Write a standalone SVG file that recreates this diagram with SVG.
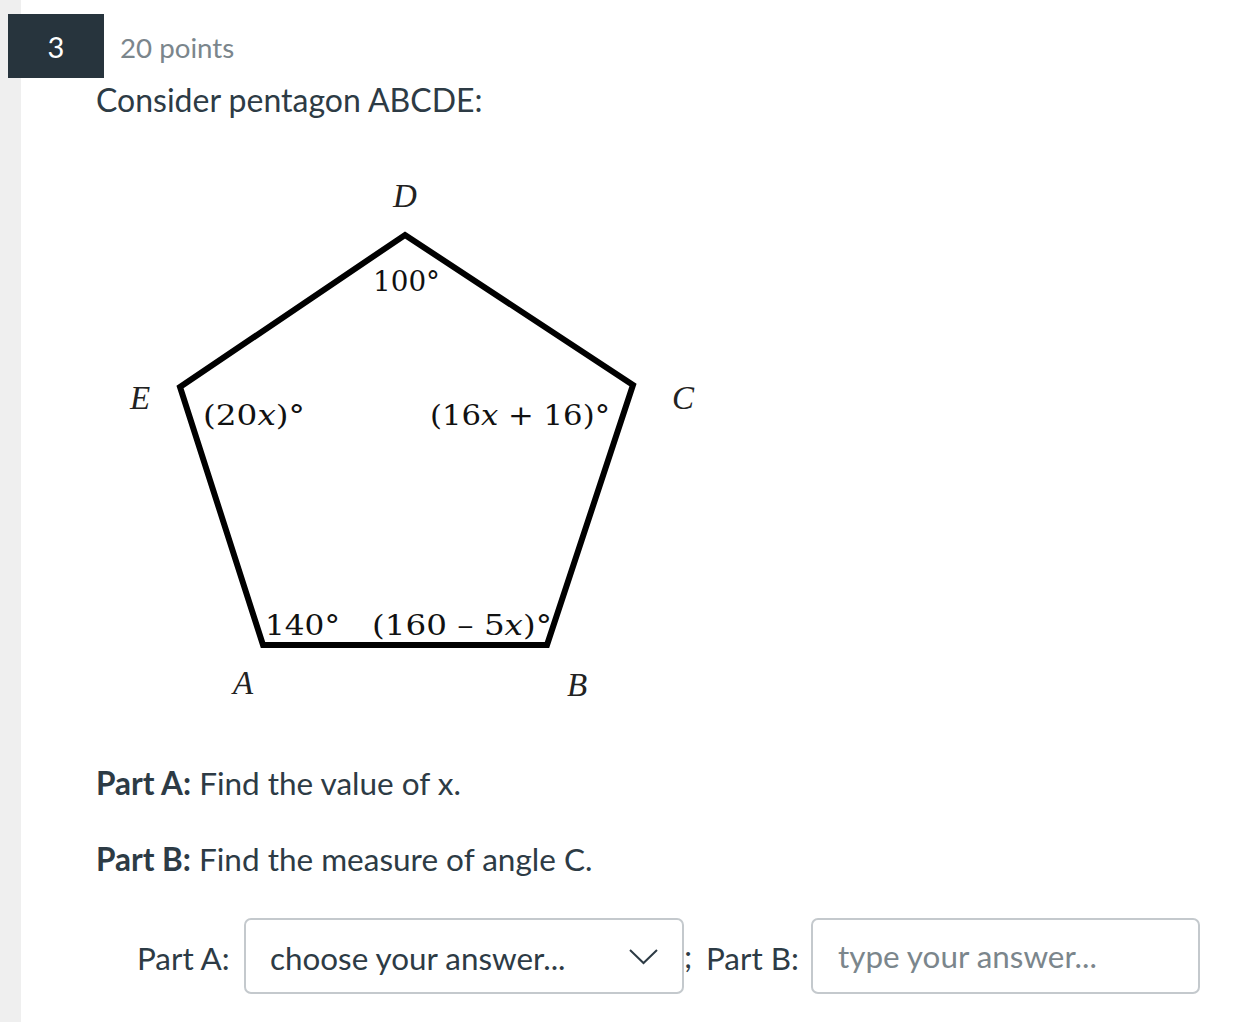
<svg xmlns="http://www.w3.org/2000/svg" width="1250" height="1022" viewBox="0 0 1250 1022">
<style>
.ui{font-family:Lato,"Liberation Sans",sans-serif;fill:#2d3b45}
.math{font-family:"DejaVu Serif","Liberation Serif",serif;fill:#111;font-size:28px}
.lbl{font-family:"Liberation Serif","DejaVu Serif",serif;font-style:italic;fill:#222;font-size:33px}
.box{fill:#fff;stroke:#c4c9cd;stroke-width:2}
</style>
<rect width="1250" height="1022" fill="#fff"/>
<rect x="0" y="0" width="21" height="1022" fill="#efefef"/>
<g id="header">
<rect x="8" y="14" width="96" height="64" fill="#27343d"/>
<text x="56" y="58" text-anchor="middle" font-family="Lato,'Liberation Sans',sans-serif" font-size="29" fill="#fff">3</text>
<text x="120" y="58" font-family="Lato,'Liberation Sans',sans-serif" font-size="27.7" fill="#7b868c">20 points</text>
<text class="ui" x="96" y="112" font-size="32">Consider pentagon ABCDE:</text>
</g>
<g id="pentagon">
<polygon points="405,235 633,385 547,645 263,645 180,387" fill="none" stroke="#000" stroke-width="6" stroke-linejoin="miter"/>
</g>
<g id="labels">
<text class="lbl" x="405" y="207" text-anchor="middle">D</text>
<text class="lbl" x="140" y="409" text-anchor="middle">E</text>
<text class="lbl" x="683" y="409" text-anchor="middle">C</text>
<text class="lbl" x="243" y="694" text-anchor="middle">A</text>
<text class="lbl" x="577" y="696" text-anchor="middle">B</text>
<text class="math" x="373" y="291" textLength="67" lengthAdjust="spacingAndGlyphs">100°</text>
<text class="math" x="203" y="425" textLength="102" lengthAdjust="spacingAndGlyphs">(20<tspan font-style="italic">x</tspan>)°</text>
<text class="math" x="430" y="425" textLength="180" lengthAdjust="spacingAndGlyphs">(16<tspan font-style="italic">x</tspan> + 16)°</text>
<text class="math" x="265" y="635" textLength="75" lengthAdjust="spacingAndGlyphs">140°</text>
<text class="math" x="372" y="635" textLength="180" lengthAdjust="spacingAndGlyphs">(160 – 5<tspan font-style="italic">x</tspan>)°</text>
</g>
<g id="questions">
<text class="ui" x="96" y="795" font-size="31.5"><tspan font-weight="bold">Part A:</tspan> Find the value of x.</text>
<text class="ui" x="96" y="871" font-size="31.5"><tspan font-weight="bold">Part B:</tspan> Find the measure of angle C.</text>
</g>
<g id="answers">
<text class="ui" x="137" y="970" font-size="31.4">Part A:</text>
<rect class="box" x="245" y="919" width="438" height="74" rx="6"/>
<text class="ui" x="270" y="970" font-size="31.4">choose your answer...</text>
<polyline points="630,950 643.5,963 657,950" fill="none" stroke="#2d3b45" stroke-width="2"/>
<text class="ui" x="684" y="968" font-size="31.4">;</text>
<text class="ui" x="706" y="970" font-size="31.4">Part B:</text>
<rect class="box" x="812" y="919" width="387" height="74" rx="6"/>
<text x="838" y="968" font-family="Lato,'Liberation Sans',sans-serif" font-size="31.4" fill="#7b868c">type your answer...</text>
</g>
</svg>
